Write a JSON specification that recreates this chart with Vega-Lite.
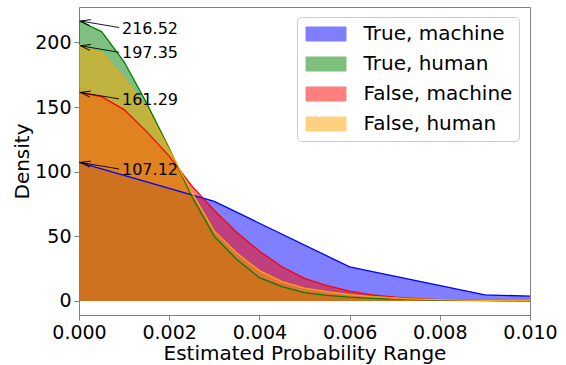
{
  "$schema": "https://vega.github.io/schema/vega-lite/v6.json",
  "width": 451,
  "height": 308,
  "autosize": {"type": "none"},
  "padding": {"left": 79, "top": 7, "right": 36, "bottom": 50},
  "config": {
    "font": "DejaVu Sans",
    "view": {"stroke": "#808080", "strokeWidth": 1},
    "axis": {
      "grid": false,
      "domain": false,
      "tickColor": "#808080",
      "tickSize": 5,
      "tickWidth": 1,
      "labelFont": "DejaVu Sans",
      "labelFontSize": 19,
      "labelColor": "black",
      "labelPadding": 3,
      "labelFlush": false,
      "labelOverlap": false,
      "titleFont": "DejaVu Sans",
      "titleFontSize": 20,
      "titleFontWeight": "normal",
      "titleColor": "black"
    }
  },
  "datasets": {
    "curves": [
      {"group": "True, machine", "range": 0.0, "density": 107.12},
      {"group": "True, machine", "range": 0.003, "density": 77.0},
      {"group": "True, machine", "range": 0.006, "density": 26.4},
      {"group": "True, machine", "range": 0.009, "density": 4.8},
      {"group": "True, machine", "range": 0.01, "density": 3.7},

      {"group": "True, human", "range": 0.0, "density": 216.52},
      {"group": "True, human", "range": 0.0005, "density": 208.3},
      {"group": "True, human", "range": 0.001, "density": 185.0},
      {"group": "True, human", "range": 0.0015, "density": 153.0},
      {"group": "True, human", "range": 0.002, "density": 118.0},
      {"group": "True, human", "range": 0.0025, "density": 81.0},
      {"group": "True, human", "range": 0.003, "density": 50.0},
      {"group": "True, human", "range": 0.0035, "density": 32.0},
      {"group": "True, human", "range": 0.004, "density": 18.0},
      {"group": "True, human", "range": 0.0045, "density": 11.2},
      {"group": "True, human", "range": 0.005, "density": 6.5},
      {"group": "True, human", "range": 0.0055, "density": 4.4},
      {"group": "True, human", "range": 0.006, "density": 3.0},
      {"group": "True, human", "range": 0.0065, "density": 2.1},
      {"group": "True, human", "range": 0.007, "density": 1.4},
      {"group": "True, human", "range": 0.0075, "density": 1.0},
      {"group": "True, human", "range": 0.008, "density": 0.7},
      {"group": "True, human", "range": 0.0085, "density": 0.5},
      {"group": "True, human", "range": 0.009, "density": 0.3},
      {"group": "True, human", "range": 0.0095, "density": 0.2},
      {"group": "True, human", "range": 0.01, "density": 0.15},

      {"group": "False, machine", "range": 0.0, "density": 161.29},
      {"group": "False, machine", "range": 0.0005, "density": 158.0},
      {"group": "False, machine", "range": 0.001, "density": 148.0},
      {"group": "False, machine", "range": 0.0015, "density": 131.0},
      {"group": "False, machine", "range": 0.002, "density": 112.0},
      {"group": "False, machine", "range": 0.0025, "density": 89.0},
      {"group": "False, machine", "range": 0.003, "density": 70.0},
      {"group": "False, machine", "range": 0.0035, "density": 53.0},
      {"group": "False, machine", "range": 0.004, "density": 38.5},
      {"group": "False, machine", "range": 0.0045, "density": 26.5},
      {"group": "False, machine", "range": 0.005, "density": 17.5},
      {"group": "False, machine", "range": 0.0055, "density": 11.8},
      {"group": "False, machine", "range": 0.006, "density": 7.6},
      {"group": "False, machine", "range": 0.0065, "density": 4.8},
      {"group": "False, machine", "range": 0.007, "density": 3.0},
      {"group": "False, machine", "range": 0.0075, "density": 1.8},
      {"group": "False, machine", "range": 0.008, "density": 1.1},
      {"group": "False, machine", "range": 0.0085, "density": 0.7},
      {"group": "False, machine", "range": 0.009, "density": 0.45},
      {"group": "False, machine", "range": 0.0095, "density": 0.3},
      {"group": "False, machine", "range": 0.01, "density": 0.2},

      {"group": "False, human", "range": 0.0, "density": 197.35},
      {"group": "False, human", "range": 0.0005, "density": 191.5},
      {"group": "False, human", "range": 0.001, "density": 172.0},
      {"group": "False, human", "range": 0.0015, "density": 149.0},
      {"group": "False, human", "range": 0.002, "density": 117.0},
      {"group": "False, human", "range": 0.0025, "density": 84.0},
      {"group": "False, human", "range": 0.003, "density": 54.0},
      {"group": "False, human", "range": 0.0035, "density": 37.0},
      {"group": "False, human", "range": 0.004, "density": 23.5},
      {"group": "False, human", "range": 0.0045, "density": 15.0},
      {"group": "False, human", "range": 0.005, "density": 10.0},
      {"group": "False, human", "range": 0.0055, "density": 7.2},
      {"group": "False, human", "range": 0.006, "density": 5.0},
      {"group": "False, human", "range": 0.0065, "density": 3.4},
      {"group": "False, human", "range": 0.007, "density": 2.3},
      {"group": "False, human", "range": 0.0075, "density": 1.5},
      {"group": "False, human", "range": 0.008, "density": 1.0},
      {"group": "False, human", "range": 0.0085, "density": 0.7},
      {"group": "False, human", "range": 0.009, "density": 0.5},
      {"group": "False, human", "range": 0.0095, "density": 0.35},
      {"group": "False, human", "range": 0.01, "density": 0.25}
    ]
  },
  "data": {"name": "curves"},
  "encoding": {
    "x": {
      "field": "range",
      "type": "quantitative",
      "scale": {"domain": [0, 0.01], "nice": false, "zero": false},
      "axis": {
        "title": "Estimated Probability Range",
        "values": [0, 0.002, 0.004, 0.006, 0.008, 0.01],
        "format": ".3f",
        "labelAlign": "center",
        "labelBaseline": "top",
        "titleBaseline": "alphabetic",
        "titleY": 44
      }
    },
    "y": {
      "field": "density",
      "type": "quantitative",
      "stack": null,
      "scale": {"domain": [-10.83, 227.35], "nice": false, "zero": false},
      "axis": {
        "title": "Density",
        "values": [0, 50, 100, 150, 200],
        "titleBaseline": "alphabetic",
        "titleX": -51
      }
    }
  },
  "layer": [
    {
      "mark": {"type": "area", "opacity": 0.5},
      "encoding": {
        "y2": {"datum": 0},
        "color": {
          "field": "group",
          "type": "nominal",
          "sort": null,
          "scale": {
            "domain": ["True, machine", "True, human", "False, machine", "False, human"],
            "range": ["#0000ff", "#008000", "#ff0000", "#ffa500"]
          },
          "legend": {
            "title": null,
            "orient": "none",
            "legendX": 218,
            "legendY": 10,
            "symbolType": "M-2,-0.7H2V0.7H-2Z",
            "symbolSize": 400,
            "symbolOpacity": 0.5,
            "symbolStrokeWidth": 1,
            "symbolOffset": 12,
            "labelFont": "DejaVu Sans",
            "labelFontSize": 20,
            "labelColor": "black",
            "labelOffset": 27,
            "rowPadding": 9,
            "padding": 6.5,
            "strokeColor": "#cccccc",
            "fillColor": "rgba(255,255,255,0.8)",
            "cornerRadius": 4,
            "encode": {
              "symbols": {"update": {"stroke": {"scale": "color", "field": "value"}}}
            }
          }
        }
      }
    },
    {
      "mark": {"type": "line", "strokeWidth": 1.3},
      "encoding": {
        "color": {"field": "group", "type": "nominal", "legend": null}
      }
    },
    {
      "transform": [{"filter": "datum.range == 0"}],
      "mark": {
        "type": "rule",
        "color": "black",
        "strokeWidth": 0.9,
        "xOffset": 1.5,
        "x2Offset": 40,
        "y2Offset": 6.5
      },
      "encoding": {
        "x2": {"field": "range"},
        "y2": {"field": "density"}
      }
    },
    {
      "transform": [{"filter": "datum.range == 0"}],
      "mark": {
        "type": "point",
        "shape": "M2,-0.6L0,0L2,0.6",
        "size": 100,
        "filled": false,
        "stroke": "black",
        "strokeWidth": 0.9,
        "opacity": 1,
        "angle": 9.5,
        "xOffset": 1.5
      }
    },
    {
      "transform": [{"filter": "datum.range == 0"}],
      "mark": {
        "type": "text",
        "align": "left",
        "baseline": "middle",
        "dx": 43,
        "dy": 7.5,
        "fontSize": 16,
        "font": "DejaVu Sans",
        "color": "black"
      },
      "encoding": {
        "text": {"field": "density", "type": "quantitative", "format": ".2f"}
      }
    }
  ]
}
